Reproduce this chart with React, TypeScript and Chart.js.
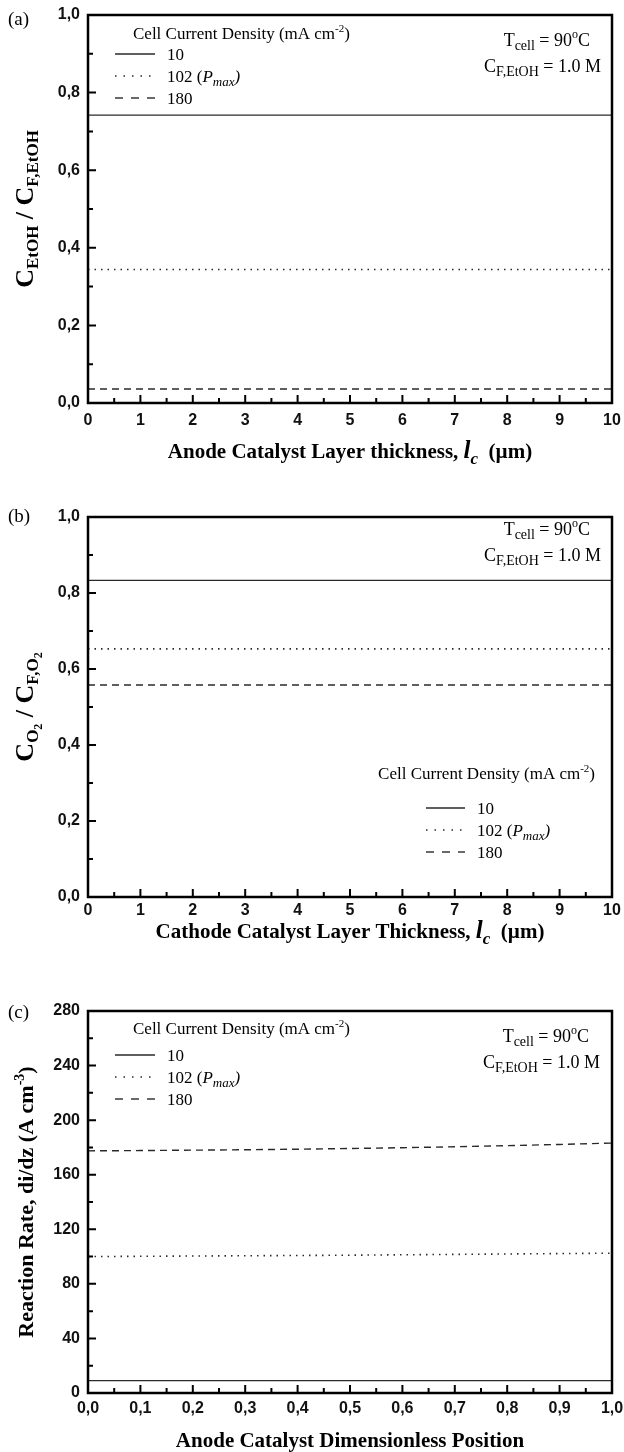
import React, { useEffect, useRef } from "react";
import { Chart, registerables } from "chart.js";

Chart.register(...registerables);

const SERIF = "'Liberation Serif', 'DejaVu Serif', serif";
const SANS = "'Liberation Sans', Arial, sans-serif";

// ---------- Data ----------
// Panel (a): anode catalyst layer, ethanol concentration ratio
const xThicknessA = [0, 1, 2, 3, 4, 5, 6, 7, 8, 9, 10];
const ethanol10 = [0.742, 0.742, 0.742, 0.742, 0.742, 0.742, 0.742, 0.742, 0.742, 0.742, 0.742];
const ethanol102 = [0.344, 0.344, 0.344, 0.344, 0.344, 0.344, 0.344, 0.344, 0.344, 0.344, 0.344];
const ethanol180 = [0.036, 0.036, 0.036, 0.036, 0.036, 0.036, 0.036, 0.036, 0.036, 0.036, 0.036];

// Panel (b): cathode catalyst layer, oxygen concentration ratio
const xThicknessB = [0, 1, 2, 3, 4, 5, 6, 7, 8, 9, 10];
const oxygen10 = [0.833, 0.833, 0.833, 0.833, 0.833, 0.833, 0.833, 0.833, 0.833, 0.833, 0.833];
const oxygen102 = [0.653, 0.653, 0.653, 0.653, 0.653, 0.653, 0.653, 0.653, 0.653, 0.653, 0.653];
const oxygen180 = [0.558, 0.558, 0.558, 0.558, 0.558, 0.558, 0.558, 0.558, 0.558, 0.558, 0.558];

// Panel (c): reaction rate vs dimensionless position
const xPosition = [0, 0.1, 0.2, 0.3, 0.4, 0.5, 0.6, 0.7, 0.8, 0.9, 1.0];
const rate10 = [9, 9, 9, 9, 9, 9, 9, 9, 9, 9, 9];
const rate102 = [100.0, 100.2, 100.4, 100.6, 100.8, 101.0, 101.3, 101.6, 101.9, 102.2, 102.5];
const rate180 = [177.5, 177.7, 178.0, 178.3, 178.7, 179.2, 179.8, 180.5, 181.3, 182.2, 183.2];

// Legend labels (cell current density, mA cm-2)
const currentDensities = ["10", "102", "180"];

// Tick values
const xTicksThickness = [0, 1, 2, 3, 4, 5, 6, 7, 8, 9, 10];
const yTicksRatio = [0, 0.2, 0.4, 0.6, 0.8, 1.0];
const xTicksPosition = [0, 0.1, 0.2, 0.3, 0.4, 0.5, 0.6, 0.7, 0.8, 0.9, 1.0];
const yTicksRate = [0, 40, 80, 120, 160, 200, 240, 280];

// ---------- Styles ----------
const lineStyles = [
  { dash: [] as number[], width: 1.3, legendDash: [] as number[] },
  { dash: [1.5, 5], width: 1.6, legendDash: [1.5, 7] },
  { dash: [7, 5], width: 1.4, legendDash: [8, 8] },
];
const LINE_COLOR = "#2a2a2a";

type Seg = { t: string; f: string; dy?: number };
const ff = (style: string, size: number, fam = SERIF) => `${style} ${size}px ${fam}`;

function richAt(ctx: CanvasRenderingContext2D, segs: Seg[], x: number, base: number, align: "left" | "center" | "right") {
  ctx.textBaseline = "alphabetic";
  ctx.textAlign = "left";
  let w = 0;
  for (const s of segs) {
    ctx.font = s.f;
    w += ctx.measureText(s.t).width;
  }
  let cx = align === "left" ? x : align === "center" ? x - w / 2 : x - w;
  for (const s of segs) {
    ctx.font = s.f;
    ctx.fillText(s.t, cx, base + (s.dy || 0));
    cx += ctx.measureText(s.t).width;
  }
}
function rich(ctx: CanvasRenderingContext2D, segs: Seg[], x: number, yc: number, align: "left" | "center" | "right", size: number) {
  richAt(ctx, segs, x, yc + size * 0.34, align);
}
function rotated(ctx: CanvasRenderingContext2D, segs: Seg[], xBase: number, yc: number) {
  ctx.save();
  ctx.translate(xBase, yc);
  ctx.rotate(-Math.PI / 2);
  richAt(ctx, segs, 0, 0, "center");
  ctx.restore();
}

const legendTitle: Seg[] = [
  { t: "Cell Current Density (mA cm", f: ff("", 17) },
  { t: "-2", f: ff("", 11), dy: -7 },
  { t: ")", f: ff("", 17) },
];
function legendLabel(i: number): Seg[] {
  if (i === 1) {
    return [
      { t: currentDensities[1] + " (", f: ff("", 17) },
      { t: "P", f: ff("italic", 17) },
      { t: "max", f: ff("italic", 13), dy: 4 },
      { t: ")", f: ff("italic", 17) },
    ];
  }
  return [{ t: currentDensities[i], f: ff("", 17) }];
}
function drawLegend(ctx: CanvasRenderingContext2D, rows: number[], x1: number, x2: number, tx: number) {
  rows.forEach((y, i) => {
    ctx.save();
    ctx.strokeStyle = LINE_COLOR;
    ctx.lineWidth = lineStyles[i].width;
    ctx.setLineDash(lineStyles[i].legendDash);
    ctx.beginPath();
    ctx.moveTo(x1, y);
    ctx.lineTo(x2, y);
    ctx.stroke();
    ctx.restore();
    rich(ctx, legendLabel(i), tx, y, "left", 17);
  });
}
function drawConditions(ctx: CanvasRenderingContext2D, xr1: number, y1: number, xr2: number, y2: number) {
  rich(ctx, [
    { t: "T", f: ff("", 18) },
    { t: "cell", f: ff("", 14), dy: 4 },
    { t: " = 90", f: ff("", 18) },
    { t: "o", f: ff("", 12), dy: -8 },
    { t: "C", f: ff("", 18) },
  ], xr1, y1, "right", 18);
  rich(ctx, [
    { t: "C", f: ff("", 18) },
    { t: "F,EtOH", f: ff("", 14), dy: 4 },
    { t: " = 1.0 M", f: ff("", 18) },
  ], xr2, y2, "right", 18);
}

type PanelSpec = {
  top: number;
  height: number;
  padTop: number;
  padBottom: number;
  xAxisH: number;
  tickPad: number;
  x: number[];
  series: number[][];
  xMin: number; xMax: number; xTicks: number[]; fmtX: (v: number) => string;
  yMin: number; yMax: number; yTicks: number[]; fmtY: (v: number) => string;
  draw: (ctx: CanvasRenderingContext2D) => void;
};

function decorPlugin(p: PanelSpec) {
  return {
    id: "decor",
    afterDraw(chart: any) {
      const { ctx, chartArea: a, scales } = chart;
      const xs = scales.x, ys = scales.y;
      ctx.save();
      ctx.strokeStyle = "#000";
      ctx.lineWidth = 2;
      ctx.setLineDash([]);
      const xv: number[] = xs.ticks.map((t: any) => t.value);
      const yv: number[] = ys.ticks.map((t: any) => t.value);
      ctx.beginPath();
      xv.forEach((v, i) => {
        const px = xs.getPixelForValue(v);
        ctx.moveTo(px, a.bottom);
        ctx.lineTo(px, a.bottom - 8);
        if (i < xv.length - 1) {
          const mx = xs.getPixelForValue((v + xv[i + 1]) / 2);
          ctx.moveTo(mx, a.bottom);
          ctx.lineTo(mx, a.bottom - 5);
        }
      });
      yv.forEach((v, i) => {
        const py = ys.getPixelForValue(v);
        ctx.moveTo(a.left, py);
        ctx.lineTo(a.left + 8, py);
        if (i < yv.length - 1) {
          const my = ys.getPixelForValue((v + yv[i + 1]) / 2);
          ctx.moveTo(a.left, my);
          ctx.lineTo(a.left + 5, my);
        }
      });
      ctx.stroke();
      ctx.lineWidth = 2.5;
      ctx.strokeRect(a.left, a.top, a.right - a.left, a.bottom - a.top);
      ctx.fillStyle = "#000";
      ctx.translate(0, -p.top);
      p.draw(ctx);
      ctx.restore();
    },
  };
}

function makeConfig(p: PanelSpec): any {
  const tickFont = { family: SANS, size: 16, weight: "bold" as const };
  return {
    type: "line",
    data: {
      datasets: p.series.map((ys, i) => ({
        label: currentDensities[i],
        data: p.x.map((x, j) => ({ x, y: ys[j] })),
        borderColor: LINE_COLOR,
        borderWidth: lineStyles[i].width,
        borderDash: lineStyles[i].dash,
        pointRadius: 0,
        fill: false,
        tension: 0,
      })),
    },
    options: {
      animation: false,
      responsive: false,
      maintainAspectRatio: false,
      layout: { padding: { left: 8, right: 12, top: p.padTop, bottom: p.padBottom } },
      plugins: { legend: { display: false }, tooltip: { enabled: false }, title: { display: false } },
      scales: {
        x: {
          type: "linear",
          min: p.xMin,
          max: p.xMax,
          afterBuildTicks: (s: any) => { s.ticks = p.xTicks.map((v) => ({ value: v })); },
          afterFit: (s: any) => { s.height = p.xAxisH; s.paddingLeft = 0; s.paddingRight = 0; },
          grid: { display: false, drawTicks: false },
          border: { display: false },
          ticks: { callback: (v: any) => p.fmtX(Number(v)), font: tickFont, color: "#111", padding: p.tickPad, maxRotation: 0, autoSkip: false },
        },
        y: {
          type: "linear",
          min: p.yMin,
          max: p.yMax,
          afterBuildTicks: (s: any) => { s.ticks = p.yTicks.map((v) => ({ value: v })); },
          afterFit: (s: any) => { s.width = 80; s.paddingTop = 0; s.paddingBottom = 0; },
          grid: { display: false, drawTicks: false },
          border: { display: false },
          ticks: { callback: (v: any) => p.fmtY(Number(v)), font: tickFont, color: "#111", padding: 8, autoSkip: false },
        },
      },
    },
    plugins: [decorPlugin(p)],
  };
}

const comma1 = (v: number) => v.toFixed(1).replace(".", ",");
const int0 = (v: number) => String(Math.round(v));

const panels: PanelSpec[] = [
  {
    top: 0, height: 470, padTop: 15, padBottom: 37, xAxisH: 30, tickPad: 8,
    x: xThicknessA, series: [ethanol10, ethanol102, ethanol180],
    xMin: 0, xMax: 10, xTicks: xTicksThickness, fmtX: int0,
    yMin: 0, yMax: 1, yTicks: yTicksRatio, fmtY: comma1,
    draw: (ctx) => {
      rich(ctx, [{ t: "(a)", f: ff("", 19) }], 8, 19, "left", 19);
      rich(ctx, legendTitle, 133, 33, "left", 17);
      drawLegend(ctx, [54, 76, 98], 115, 155, 167);
      drawConditions(ctx, 590, 40, 601, 66);
      rotated(ctx, [
        { t: "C", f: ff("bold", 26) },
        { t: "EtOH", f: ff("bold", 17), dy: 5 },
        { t: " / C", f: ff("bold", 26) },
        { t: "F,EtOH", f: ff("bold", 17), dy: 5 },
      ], 33, 209);
      rich(ctx, [
        { t: "Anode Catalyst Layer thickness, ", f: ff("bold", 21) },
        { t: "l", f: ff("bold italic", 25) },
        { t: "c", f: ff("bold italic", 17), dy: 6 },
        { t: "  (µm)", f: ff("bold", 21) },
      ], 350, 451, "center", 21);
    },
  },
  {
    top: 470, height: 490, padTop: 47, padBottom: 33, xAxisH: 30, tickPad: 4,
    x: xThicknessB, series: [oxygen10, oxygen102, oxygen180],
    xMin: 0, xMax: 10, xTicks: xTicksThickness, fmtX: int0,
    yMin: 0, yMax: 1, yTicks: yTicksRatio, fmtY: comma1,
    draw: (ctx) => {
      rich(ctx, [{ t: "(b)", f: ff("", 19) }], 8, 516, "left", 19);
      drawConditions(ctx, 590, 529, 601, 555);
      rich(ctx, legendTitle, 595, 773, "right", 17);
      drawLegend(ctx, [808, 830, 852], 426, 465, 477);
      rotated(ctx, [
        { t: "C", f: ff("bold", 26) },
        { t: "O", f: ff("bold", 17), dy: 5 },
        { t: "2", f: ff("bold", 12), dy: 9 },
        { t: " / C", f: ff("bold", 26) },
        { t: "F,O", f: ff("bold", 17), dy: 5 },
        { t: "2", f: ff("bold", 12), dy: 9 },
      ], 33, 707);
      rich(ctx, [
        { t: "Cathode Catalyst Layer Thickness, ", f: ff("bold", 21) },
        { t: "l", f: ff("bold italic", 25) },
        { t: "c", f: ff("bold italic", 17), dy: 6 },
        { t: "  (µm)", f: ff("bold", 21) },
      ], 350, 931, "center", 21);
    },
  },
  {
    top: 960, height: 492, padTop: 51, padBottom: 29, xAxisH: 30, tickPad: 6,
    x: xPosition, series: [rate10, rate102, rate180],
    xMin: 0, xMax: 1, xTicks: xTicksPosition, fmtX: comma1,
    yMin: 0, yMax: 280, yTicks: yTicksRate, fmtY: int0,
    draw: (ctx) => {
      rich(ctx, [{ t: "(c)", f: ff("", 19) }], 8, 1012, "left", 19);
      rich(ctx, legendTitle, 133, 1028, "left", 17);
      drawLegend(ctx, [1055, 1077, 1099], 115, 155, 167);
      drawConditions(ctx, 589, 1036, 600, 1062);
      rotated(ctx, [
        { t: "Reaction Rate, di/dz (A cm", f: ff("bold", 22) },
        { t: "-3", f: ff("bold", 14), dy: -9 },
        { t: ")", f: ff("bold", 22) },
      ], 33, 1202);
      rich(ctx, [{ t: "Anode Catalyst Dimensionless Position", f: ff("bold", 21) }], 350, 1440, "center", 21);
    },
  },
];

function Panel({ spec }: { spec: PanelSpec }) {
  const ref = useRef<HTMLCanvasElement>(null);
  useEffect(() => {
    const chart = new Chart(ref.current as HTMLCanvasElement, makeConfig(spec));
    return () => chart.destroy();
  }, [spec]);
  return (
    <canvas
      ref={ref}
      width={624}
      height={spec.height}
      style={{ position: "absolute", left: 0, top: spec.top, width: 624, height: spec.height }}
    />
  );
}

export default function App() {
  return (
    <div style={{ position: "absolute", left: 0, top: 0, width: 624, height: 1452, background: "#fff", overflow: "hidden" }}>
      {panels.map((p, i) => (
        <Panel key={i} spec={p} />
      ))}
    </div>
  );
}
